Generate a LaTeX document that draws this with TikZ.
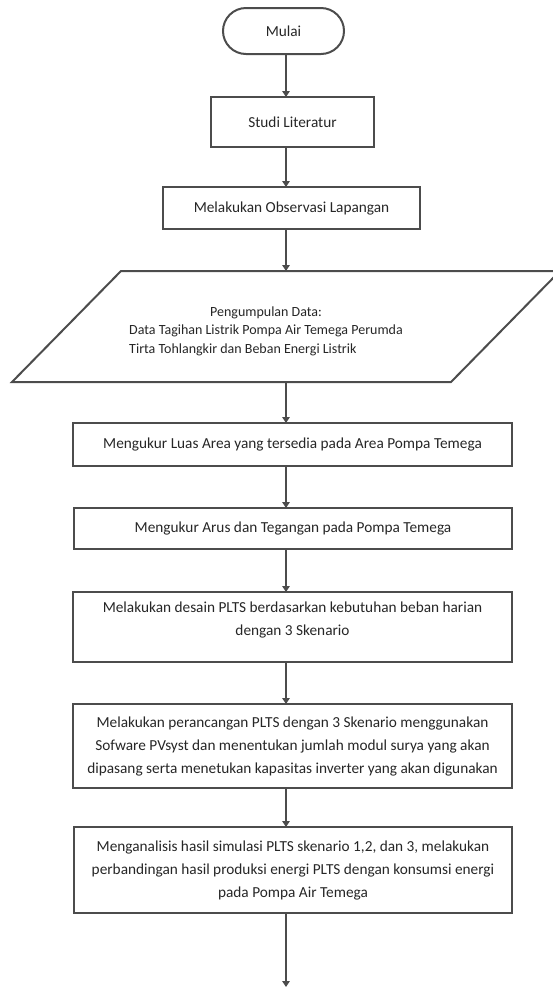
\documentclass[tikz,border=0pt]{standalone}
\usepackage{fontspec}
\setmainfont{Carlito}
\usetikzlibrary{arrows.meta}
\begin{document}
\begin{tikzpicture}[x=1pt,y=-1pt,
  every node/.style={inner sep=0pt, outer sep=0pt, text=black!85},
  box/.style={draw=black!70, line width=2.4pt, rectangle},
  term/.style={draw=black!70, line width=2pt, rounded corners=23pt},
  txt/.style={font=\fontsize{15.3}{23}\selectfont, align=center},
  ptxt/.style={font=\fontsize{14}{18.5}\selectfont},
  arr/.style={draw=black!70, line width=2.4pt, -{Triangle[length=6pt,width=7.5pt]}}
]
\useasboundingbox (0,0) rectangle (553,989);
\coordinate (ax) at (286,0);

\node[term, minimum width=121pt, minimum height=46pt, txt] (mulai) at (283.5,31) {Mulai};
\node[box, minimum width=163pt, minimum height=50pt, txt] (studi) at (292.5,122) {Studi Literatur};
\node[box, minimum width=257pt, minimum height=42pt, txt] (obs) at (291.5,208) {Melakukan Observasi Lapangan};

\node[minimum width=548pt, minimum height=111pt] (para) at (286,326.5) {};
\draw[black!70, line width=2pt, line join=miter]
  (para.south west) -- ([xshift=-109pt]para.south east) -- (para.north east)
  -- ([xshift=109pt]para.north west) -- cycle;
\node[ptxt] (paratext) at (266,331) {\renewcommand{\arraystretch}{1}\begin{tabular}{@{}l@{}}\multicolumn{1}{@{}c@{}}{Pengumpulan Data:}\\Data Tagihan Listrik Pompa Air Temega Perumda\\Tirta Tohlangkir dan Beban Energi Listrik\end{tabular}};

\node[box, minimum width=439pt, minimum height=43pt, txt] (luas) at (292.5,444.5) {Mengukur Luas Area yang tersedia pada Area Pompa Temega};
\node[box, minimum width=438pt, minimum height=41pt, txt] (arus) at (293,528.5) {Mengukur Arus dan Tegangan pada Pompa Temega};
\node[box, minimum width=439pt, minimum height=70pt] (desain) at (292.5,627) {};
\node[txt] (desaintext) at ([yshift=7pt]desain.center) {Melakukan desain PLTS berdasarkan kebutuhan beban harian\\dengan 3 Skenario};
\node[box, minimum width=439pt, minimum height=84pt, txt] (rancang) at (292.5,746) {Melakukan perancangan PLTS dengan 3 Skenario menggunakan\\Sofware PVsyst dan menentukan jumlah modul surya yang akan\\dipasang serta menetukan kapasitas inverter yang akan digunakan};
\node[box, minimum width=438pt, minimum height=86pt, txt] (analisis) at (293,870) {Menganalisis hasil simulasi PLTS skenario 1,2, dan 3, melakukan\\perbandingan hasil produksi energi PLTS dengan konsumsi energi\\pada Pompa Air Temega};
\coordinate (akhir) at (286,987);

\draw[arr] (mulai.south -| ax) -- (studi.north -| ax);
\draw[arr] (studi.south -| ax) -- (obs.north -| ax);
\draw[arr] (obs.south -| ax) -- (para.north -| ax);
\draw[arr] (para.south -| ax) -- (luas.north -| ax);
\draw[arr] (luas.south -| ax) -- (arus.north -| ax);
\draw[arr] (arus.south -| ax) -- (desain.north -| ax);
\draw[arr] (desain.south -| ax) -- (rancang.north -| ax);
\draw[arr] (rancang.south -| ax) -- (analisis.north -| ax);
\draw[arr] (analisis.south -| ax) -- (akhir);
\end{tikzpicture}
\end{document}
